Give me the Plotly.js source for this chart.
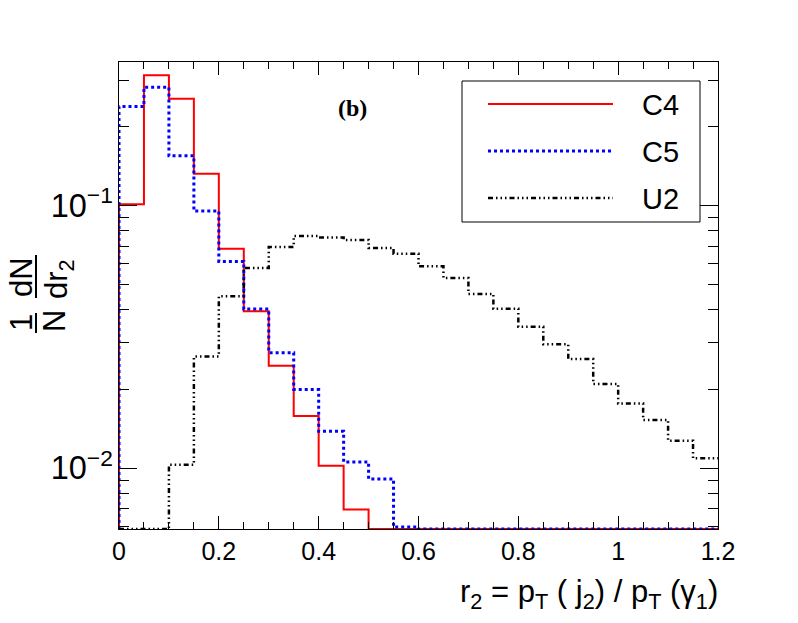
<!DOCTYPE html>
<html>
<head>
<meta charset="utf-8">
<script src="https://cdn.plot.ly/plotly-3.0.1.min.js"></script>
<style>html,body{margin:0;padding:0;background:#fff;}#plot{width:798px;height:623px;}</style>
</head>
<body>
<div id="plot"></div>
<script>
// ---- data ----
var binEdges = [0, 0.05, 0.1, 0.15, 0.2, 0.25, 0.3, 0.35, 0.4, 0.45, 0.5, 0.55, 0.6, 0.65, 0.7, 0.75, 0.8, 0.85, 0.9, 0.95, 1.0, 1.05, 1.1, 1.15, 1.2];
var seriesNames = ["C4", "C5", "U2"];
var c4 = [0.101, 0.313, 0.255, 0.132, 0.0684, 0.0395, 0.0245, 0.0158, 0.0102, 0.00695, 0, 0, 0, 0, 0, 0, 0, 0, 0, 0, 0, 0, 0, 0];
var c5 = [0.238, 0.282, 0.1545, 0.0952, 0.0612, 0.0403, 0.0275, 0.0199, 0.0138, 0.01055, 0.00909, 0.00596, 0, 0, 0, 0, 0, 0, 0, 0, 0, 0, 0, 0];
var u2 = [0, 0, 0.0103, 0.0266, 0.0451, 0.0578, 0.0695, 0.0765, 0.0755, 0.0738, 0.0689, 0.0655, 0.0586, 0.0529, 0.0460, 0.0404, 0.0345, 0.0296, 0.0260, 0.0209, 0.0176, 0.01524, 0.0127, 0.0109];
var xTickVals = [0, 0.2, 0.4, 0.6, 0.8, 1.0, 1.2];
var xTickText = ["0", "0.2", "0.4", "0.6", "0.8", "1", "1.2"];

// ---- layout constants ----
var W = 798, H = 623;
var M = {l: 119, r: 80, t: 62, b: 94};
var PW = W - M.l - M.r, PH = H - M.t - M.b;
var yLogRange = [-2.232, -0.454];
var yFloor = Math.pow(10, yLogRange[0]);
function px(x) { return (x - M.l) / PW; }
function py(y) { return 1 - (y - M.t) / PH; }

var colors = ["#ff0000", "#0000ff", "#000000"];
var dashes = ["solid", "dot", "5px,3px,1.5px,3px,1.5px,3px,1.5px,3px"];
var widths = [2, 3, 2.5];
var FONT = "Liberation Sans, Arial, Helvetica, sans-serif";

function stepTrace(vals, i) {
  var xs = [binEdges[0]], ys = [yFloor];
  for (var k = 0; k < vals.length; k++) {
    xs.push(binEdges[k]);
    ys.push(Math.max(vals[k], yFloor));
  }
  xs.push(binEdges[binEdges.length - 1]);
  ys.push(Math.max(vals[vals.length - 1], yFloor));
  return {
    x: xs, y: ys, type: "scatter", mode: "lines", name: seriesNames[i],
    line: {shape: "hv", color: colors[i], width: widths[i], dash: dashes[i]},
    showlegend: false, hoverinfo: "skip"
  };
}

var traces = [stepTrace(c4, 0), stepTrace(c5, 1), stepTrace(u2, 2)];

// manual legend (ROOT-like box)
var legBox = {x0: 462, x1: 700, y0: 81, y1: 222};
var legRows = [104, 151, 198];
var shapes = [{
  type: "rect", xref: "paper", yref: "paper",
  x0: px(legBox.x0), x1: px(legBox.x1), y0: py(legBox.y1), y1: py(legBox.y0),
  line: {color: "#000", width: 1}, fillcolor: "#fff"
}];
var annotations = [];
for (var i = 0; i < 3; i++) {
  shapes.push({
    type: "line", xref: "paper", yref: "paper",
    x0: px(488), x1: px(613), y0: py(legRows[i]), y1: py(legRows[i]),
    line: {color: colors[i], width: widths[i], dash: dashes[i]}
  });
  annotations.push({
    xref: "paper", yref: "paper", x: px(640), y: py(legRows[i] + 1),
    xanchor: "left", yanchor: "middle", showarrow: false,
    text: seriesNames[i], font: {family: FONT, size: 29, color: "#000"}
  });
}
// "(b)"
annotations.push({
  xref: "paper", yref: "paper", x: px(352), y: py(108),
  xanchor: "center", yanchor: "middle", showarrow: false,
  text: "<b>(b)</b>", font: {family: "Liberation Serif, Times New Roman, serif", size: 24, color: "#000"}
});
// x-axis title (right aligned, ROOT style)
annotations.push({
  xref: "paper", yref: "paper", x: 1.003, y: py(594),
  xanchor: "right", yanchor: "middle", showarrow: false,
  text: "r<sub>2</sub> = p<sub>T</sub> ( j<sub>2</sub>) / p<sub>T</sub> (γ<sub>1</sub>)",
  font: {family: FONT, size: 31, color: "#000"}
});
// y-axis title as a rotated fraction: (1/N) (dN/dr2)
var yt = [
  {t: "1", x: 21, y: 322},
  {t: "N", x: 54, y: 321},
  {t: "dN", x: 21, y: 277},
  {t: "dr<sub>2</sub>", x: 59, y: 279}
];
yt.forEach(function (o) {
  annotations.push({
    xref: "paper", yref: "paper", x: px(o.x), y: py(o.y),
    xanchor: "center", yanchor: "middle", showarrow: false, textangle: -90,
    text: o.t, font: {family: FONT, size: 31, color: "#000"}
  });
});
shapes.push({type: "line", xref: "paper", yref: "paper", x0: px(36), x1: px(36), y0: py(298), y1: py(255), line: {color: "#000", width: 2}});
shapes.push({type: "line", xref: "paper", yref: "paper", x0: px(36), x1: px(36), y0: py(333), y1: py(313), line: {color: "#000", width: 2}});

var layout = {
  width: W, height: H,
  margin: M,
  paper_bgcolor: "#fff", plot_bgcolor: "#fff",
  showlegend: false,
  font: {family: FONT, size: 25, color: "#000"},
  xaxis: {
    range: [binEdges[0], binEdges[binEdges.length - 1]],
    tickmode: "array", tickvals: xTickVals, ticktext: xTickText,
    ticks: "inside", ticklen: 13, tickwidth: 1, tickcolor: "#000",
    minor: {ticks: "inside", ticklen: 7, tickwidth: 1, tickcolor: "#000", dtick: 0.05, tick0: 0},
    showline: true, linecolor: "#000", linewidth: 1, mirror: "allticks",
    showgrid: false, zeroline: false,
    tickfont: {family: FONT, size: 25, color: "#000"}
  },
  yaxis: {
    type: "log", range: yLogRange,
    dtick: 1, tick0: 0, exponentformat: "power",
    ticks: "inside", ticklen: 18, tickwidth: 1, tickcolor: "#000",
    minor: {ticks: "inside", ticklen: 10, tickwidth: 1, tickcolor: "#000", dtick: "D1"},
    showline: true, linecolor: "#000", linewidth: 1, mirror: "allticks",
    showgrid: false, zeroline: false,
    tickfont: {family: FONT, size: 26, color: "#000"}
  },
  shapes: shapes,
  annotations: annotations
};

Plotly.newPlot("plot", traces, layout, {staticPlot: true, displayModeBar: false});
</script>
</body>
</html>
